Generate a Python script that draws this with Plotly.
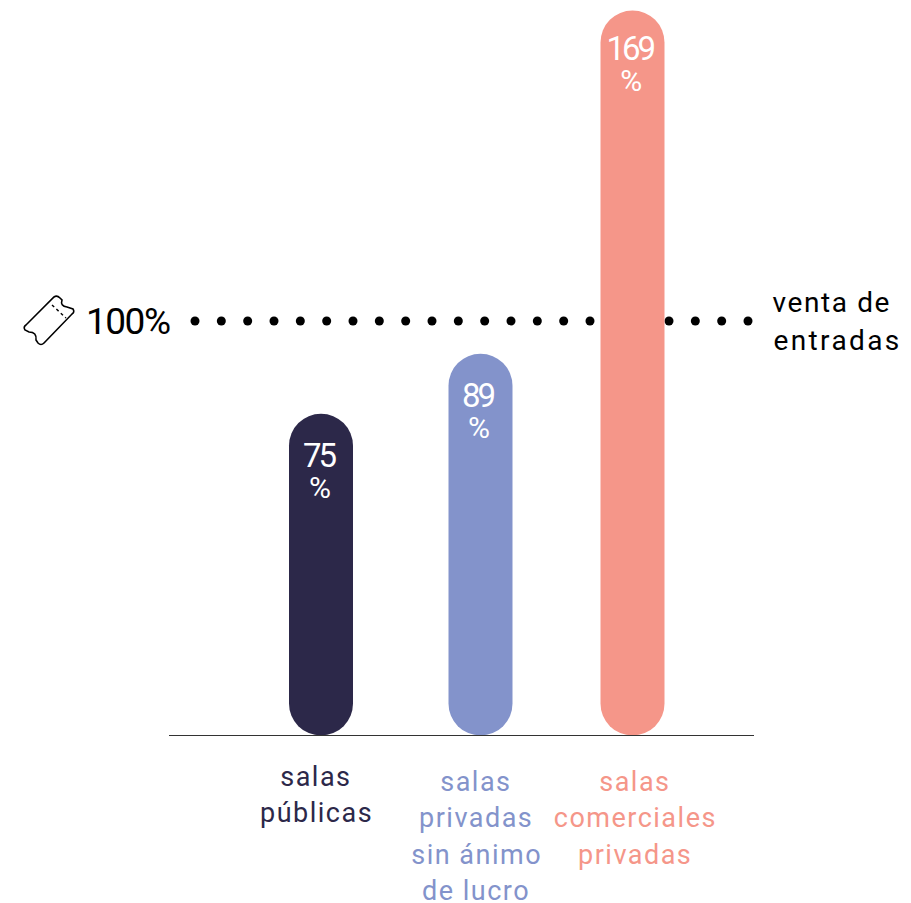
import plotly.graph_objects as go

# Data
categories = ["salas públicas", "salas privadas sin ánimo de lucro", "salas comerciales privadas"]
values = [75, 89, 169]
bar_base = [0, 0, 0]
value_labels = ["75", "89", "169"]
category_lines = [["salas", "públicas"], ["salas", "privadas", "sin ánimo", "de lucro"], ["salas", "comerciales", "privadas"]]
reference_value = 100
reference_label = "100%"
reference_note = ["venta de", "entradas"]
reference_dot_count = 22

# Colours
colors = ["#2C2849", "#8393CB", "#F59689"]

# Layout (page pixels)
W, H = 911, 903
BASE_PX = 735.5
REF_PX = 321
BAR_PX_PER_UNIT = 4.29
bar_centers = [321, 480.5, 632.5]
label_centers = [316, 476, 635]
label_first_line = [777, 782, 782]
note_centers = [832, 837]
BAR_W = 64
RADIUS = 32
FONT = "Roboto"
TEXT_WEIGHT = 450

ref_scale = (BASE_PX - REF_PX) / reference_value
dot_x = [195 + i * (748 - 195) / (reference_dot_count - 1) for i in range(reference_dot_count)]

fig = go.Figure()

# dotted reference, on the lower axes so that the bars cover it
fig.add_trace(go.Scatter(x=dot_x, y=[reference_value] * len(dot_x), mode="markers",
                         marker=dict(color="#000000", size=9), xaxis="x", yaxis="y",
                         hoverinfo="skip", showlegend=False))

fig.add_trace(go.Bar(x=bar_centers, y=values, base=bar_base, width=BAR_W,
                     marker=dict(color=colors, cornerradius=RADIUS, line_width=0),
                     xaxis="x", yaxis="y2", showlegend=False, hovertext=categories))


def py(p):
    return 1 - p / H


def px(p):
    return p / W


annotations = []
for cx, v, lab, off in zip(bar_centers, values, value_labels, [57, 57, 53]):
    annotations.append(dict(x=cx, y=v, yref="y2", xref="x", showarrow=False, yanchor="middle", yshift=-off, xshift=-3,
                            text=f'<span style="font-size:33px">{lab}</span><br><span style="font-size:30px">%</span>',
                            font=dict(family=FONT, size=24, weight=TEXT_WEIGHT, color="#FFFFFF")))

for cx, first, lines, col in zip(label_centers, label_first_line, category_lines, colors):
    for i, line in enumerate(lines):
        annotations.append(dict(x=cx, xref="x", y=py(first + i * 36.4), yref="paper", text=line, showarrow=False,
                                yanchor="middle", font=dict(family=FONT, size=27, weight=TEXT_WEIGHT, color=col)))

annotations.append(dict(x=px(127.5), xref="paper", y=reference_value, yref="y", text=reference_label, showarrow=False,
                        xanchor="center", yanchor="middle", font=dict(family=FONT, size=37, weight=TEXT_WEIGHT, color="#000000")))
for i, (line, cx) in enumerate(zip(reference_note, note_centers)):
    annotations.append(dict(x=px(cx), xref="paper", y=py(302 + i * 38), yref="paper", text=line, showarrow=False,
                            xanchor="center", yanchor="middle", font=dict(family=FONT, size=28, weight=TEXT_WEIGHT, color="#000000")))

# ticket icon
def P(x, y):
    return f"{px(x):.5f} {py(y):.5f}"


ticket = ("M" + P(54, 297) + " Q" + P(57, 295) + " " + P(60, 298) + " L" + P(62, 300)
          + " Q" + P(60, 306) + " " + P(67, 307) + " L" + P(73, 309) + " Q" + P(75, 312) + " " + P(72, 314)
          + " L" + P(44, 343) + " Q" + P(41, 346) + " " + P(38, 343) + " L" + P(36, 340)
          + " Q" + P(37, 332) + " " + P(29, 332) + " L" + P(25, 330) + " Q" + P(23, 327) + " " + P(26, 325) + " Z")

shapes = [
    dict(type="line", xref="x", yref="y", x0=169, x1=754, y0=0, y1=0, line=dict(color="#333333", width=1)),
    dict(type="path", xref="paper", yref="paper", path=ticket, line=dict(color="#000000", width=1.6)),
    dict(type="line", xref="paper", yref="paper", x0=px(52), y0=py(305), x1=px(66), y1=py(318),
         line=dict(color="#000000", width=1.4, dash="3px,3px")),
]

fig.update_layout(
    width=W, height=H, margin=dict(l=0, r=0, t=0, b=0),
    paper_bgcolor="#FFFFFF", plot_bgcolor="#FFFFFF", showlegend=False,
    xaxis=dict(range=[0, W], visible=False, fixedrange=True),
    yaxis=dict(range=[-(H - BASE_PX) / ref_scale, BASE_PX / ref_scale], visible=False, fixedrange=True),
    yaxis2=dict(range=[-(H - BASE_PX) / BAR_PX_PER_UNIT, BASE_PX / BAR_PX_PER_UNIT], visible=False,
                overlaying="y", fixedrange=True),
    annotations=annotations, shapes=shapes,
)

post = """
document.body.style.margin='0';
document.querySelectorAll('.annotation-text').forEach(function(t){
  var s=t.textContent, sp='1.5px';
  if(s==='100%') sp='-1.5px';
  else if(/^[0-9]+%$/.test(s)) sp='-3px';
  else if(s==='entradas') sp='2.4px';
  else if(s==='venta de') sp='1.6px';
  t.style.letterSpacing=sp;
});
"""
fig.write_html("out.html", config={"displayModeBar": False}, post_script=post)
